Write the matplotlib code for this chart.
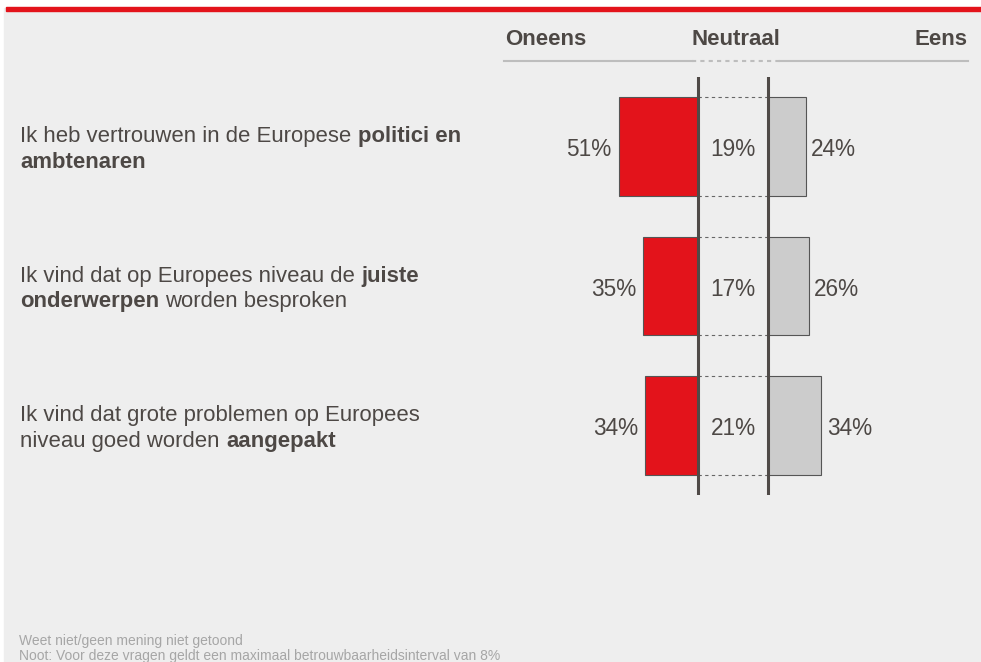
import matplotlib.pyplot as plt
import matplotlib.transforms as mtransforms
from matplotlib.patches import Rectangle
from matplotlib.lines import Line2D

plt.rcParams['font.family'] = ['Liberation Sans', 'DejaVu Sans']

# data
oneens = [51, 35, 34]
neutraal = [19, 17, 21]
eens = [24, 26, 34]
# statements, as (line1 pieces, line2 pieces); each piece = (text, bold)
statements = [
    ([("Ik heb vertrouwen in de Europese", False), ("politici en", True)],
     [("ambtenaren", True)]),
    ([("Ik vind dat op Europees niveau de", False), ("juiste", True)],
     [("onderwerpen", True), ("worden besproken", False)]),
    ([("Ik vind dat grote problemen op Europees", False)],
     [("niveau goed worden", False), ("aangepakt", True)]),
]
headers = ["Oneens", "Neutraal", "Eens"]
footnotes = ["Weet niet/geen mening niet getoond",
             "Noot: Voor deze vragen geldt een maximaal betrouwbaarheidsinterval van 8%"]

W, H = 981, 662
RED = '#e3131b'
TXT = '#4d4845'
LINE = '#4f4a47'
NEUTRAL_W = 45  # fixed width of the neutral column (in % units)
FS_Q = 15.9     # statements
FS_P = 16.3     # percentages
FS_H = 16.0     # header

def fx(px):
    return px / W

def fy(py):
    return 1 - py / H

fig = plt.figure(figsize=(W / 100, H / 100), dpi=100)
fig.patch.set_facecolor('white')

# background + red top line
fig.add_artist(Rectangle((fx(4), 0), 1, fy(7.5), transform=fig.transFigure,
                         color='#eeeeee', zorder=-10))
fig.add_artist(Rectangle((fx(6), fy(10.6)), 1, (10.6 - 7.3) / H, transform=fig.transFigure,
                         color=RED, zorder=-5))

# bar area
ax = fig.add_axes([fx(504), fy(495), fx(967 - 504), (495 - 77) / H])
ax.set_xlim(-124.4, 172.4)
ax.set_ylim(2.5, -0.5)
ax.set_axis_off()

rows = list(range(len(oneens)))
bh = 0.71
ax.barh(rows, oneens, left=[-v for v in oneens], height=bh, color=RED,
        edgecolor='#555555', linewidth=0.8, zorder=2)
ax.barh(rows, eens, left=NEUTRAL_W, height=bh, color='#cccccc',
        edgecolor='#555555', linewidth=0.8, zorder=2)
for r in rows:
    ax.hlines([r - bh / 2, r + bh / 2], 0, NEUTRAL_W, colors='#666666',
              linewidth=0.8, linestyles=(0, (3, 3)), zorder=1)
ax.axvline(0, color=LINE, linewidth=2.2, zorder=3)
ax.axvline(NEUTRAL_W, color=LINE, linewidth=2.2, zorder=3)

# percentages (baseline ~10px below the bar centre)
for r, a, n, e in zip(rows, oneens, neutraal, eens):
    ax.annotate(f"{a}%", xy=(-a, r), xytext=(-5, -7.0), textcoords='offset points',
                ha='right', va='baseline', fontsize=FS_P, color=TXT)
    ax.annotate(f"{n}%", xy=(NEUTRAL_W / 2, r), xytext=(0, -7.0), textcoords='offset points',
                ha='center', va='baseline', fontsize=FS_P, color=TXT)
    ax.annotate(f"{e}%", xy=(NEUTRAL_W + e, r), xytext=(4, -7.0), textcoords='offset points',
                ha='left', va='baseline', fontsize=FS_P, color=TXT)

# statements on the left
blend = mtransforms.blended_transform_factory(fig.transFigure, ax.transData)
for r, lines in zip(rows, statements):
    for li, pieces in enumerate(lines):
        dy = 3.2 if li == 0 else -15.3
        prev = None
        for text, bold in pieces:
            w = 'bold' if bold else 'normal'
            if prev is None:
                prev = ax.annotate(text, xy=(fx(20), r), xycoords=blend,
                                   xytext=(0, dy), textcoords='offset points',
                                   ha='left', va='baseline', fontsize=FS_Q,
                                   fontweight=w, color=TXT, annotation_clip=False)
            else:
                prev = ax.annotate(text, xy=(1, 0), xycoords=prev,
                                   xytext=(4.6, 0), textcoords='offset points',
                                   ha='left', va='bottom', fontsize=FS_Q,
                                   fontweight=w, color=TXT, annotation_clip=False)

# header
fig.text(fx(505), fy(45), headers[0], ha='left', va='baseline', fontsize=FS_H,
         fontweight='bold', color=TXT)
fig.text(fx(735.5), fy(45), headers[1], ha='center', va='baseline', fontsize=FS_H,
         fontweight='bold', color=TXT)
fig.text(fx(967), fy(45), headers[2], ha='right', va='baseline', fontsize=FS_H,
         fontweight='bold', color=TXT)
for x0, x1, ls in [(504, 692, '-'), (692, 780, (0, (2, 2))), (780, 968, '-')]:
    fig.add_artist(Line2D([fx(x0), fx(x1)], [fy(61), fy(61)], transform=fig.transFigure,
                          color='#bdbdbd', linewidth=1.5, linestyle=ls))

# footnotes
fig.text(fx(19), fy(645), footnotes[0], ha='left', va='baseline', fontsize=10,
         color='#a6a6a6')
fig.text(fx(19), fy(660), footnotes[1], ha='left', va='baseline', fontsize=10,
         color='#a6a6a6')

fig.savefig('out.png', dpi=100)
